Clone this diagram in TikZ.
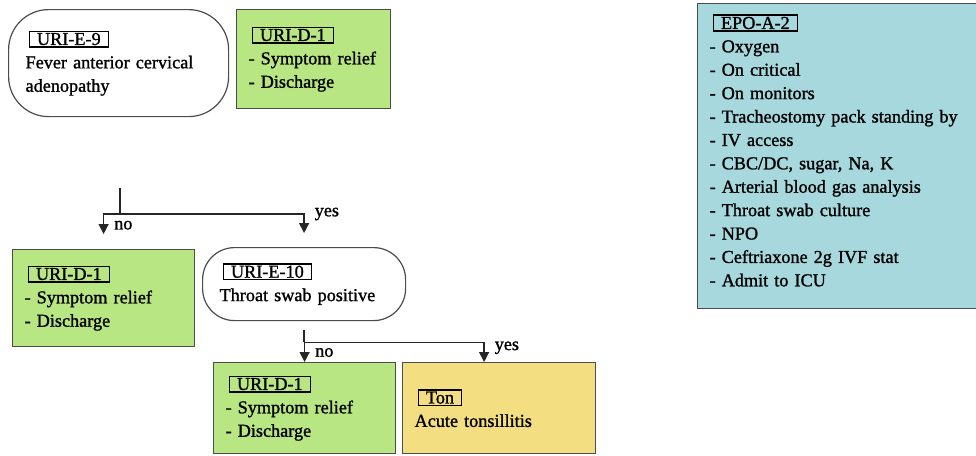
\documentclass[tikz,border=0pt]{standalone}
\usepackage{fontspec}
\setmainfont{Liberation Serif}[FakeBold=1.2]
\usetikzlibrary{arrows.meta,calc}
\definecolor{actgreen}{RGB}{184,230,130}
\definecolor{dxyellow}{RGB}{243,222,130}
\definecolor{icublue}{RGB}{166,216,222}
\newcommand{\idtag}[1]{\hspace*{3pt}{\setlength{\fboxsep}{1pt}\setlength{\fboxrule}{1.4pt}\fbox{\hspace*{6pt}#1\hspace*{6pt}}}}

\begin{document}
\begin{tikzpicture}[
  x=1pt, y=-1pt,
  box/.style={draw=black!70, line width=1.2pt, anchor=north west, align=left,
              inner xsep=12pt, font=\fontsize{18.2}{23.4}\selectfont},
  action/.style={box, fill=actgreen},
  diagnosis/.style={box, fill=dxyellow},
  admit/.style={box, fill=icublue},
  finding/.style={box, fill=white, rounded corners=#1, inner xsep=17pt},
  line/.style={draw=black!85, line width=1.3pt},
  arrow/.style={line, -{Triangle[width=10pt,length=10pt]}},
  lbl/.style={font=\fontsize{18.2}{20}\selectfont, inner sep=2pt}
]
\useasboundingbox (0,0) rectangle (976,455);
\node[finding=40pt, minimum width=220pt, minimum height=107pt, text width=186pt] (e9) at (8,9)
  {\idtag{URI-E-9}\\Fever anterior cervical\\adenopathy};
\node[action, minimum width=154pt, minimum height=99pt, text width=130pt] (d1top) at (236,9)
  {\idtag{URI-D-1}\\- Symptom relief\\- Discharge};
\node[action, minimum width=182pt, minimum height=97pt, text width=158pt] (d1mid) at (12,249)
  {\idtag{URI-D-1}\\- Symptom relief\\- Discharge};
\node[finding=32pt, minimum width=203pt, minimum height=73pt, text width=169pt] (e10) at (202,247)
  {\idtag{URI-E-10}\\Throat swab positive};
\node[action, minimum width=182pt, minimum height=91pt, text width=158pt] (d1low) at (213,362)
  {\idtag{URI-D-1}\\- Symptom relief\\- Discharge};
\node[diagnosis, minimum width=193pt, minimum height=91pt, text width=169pt] (ton) at (402,362)
  {\idtag{Ton}\\Acute tonsillitis};
\node[admit, minimum width=278pt, minimum height=305pt, text width=260pt] (epo) at (697,3)
  {\idtag{EPO-A-2}\\- Oxygen\\- On critical\\- On monitors\\- Tracheostomy pack standing by\\
   - IV access\\- CBC/DC, sugar, Na, K\\- Arterial blood gas analysis\\- Throat swab culture\\
   - NPO\\- Ceftriaxone 2g IVF stat\\- Admit to ICU\\[-12pt]\mbox{}};
% first split
\coordinate (e9out) at (120,188);
\coordinate (fork1) at (120,214);
\draw[line] (e9out) -- (fork1);
\draw[arrow, shorten >=15pt] (fork1) -| node[lbl, pos=0.66, right=8pt] {no} (d1mid.north);
\draw[arrow, shorten >=14pt] (fork1) -| node[lbl, pos=0.5, right=8pt] {yes} (e10.north);
% second split
\coordinate (fork2) at ($(e10.south)+(0,21)$);
\draw[line, shorten <=9pt] (e10.south) -- (fork2);
\draw[arrow] (fork2) -| node[lbl, pos=0.76, right=8pt] {no} (d1low.north);
\draw[arrow] (fork2) -| node[lbl, pos=0.64, right=8pt] {yes} ($(ton.north)+(-15,0)$);
\end{tikzpicture}
\end{document}
